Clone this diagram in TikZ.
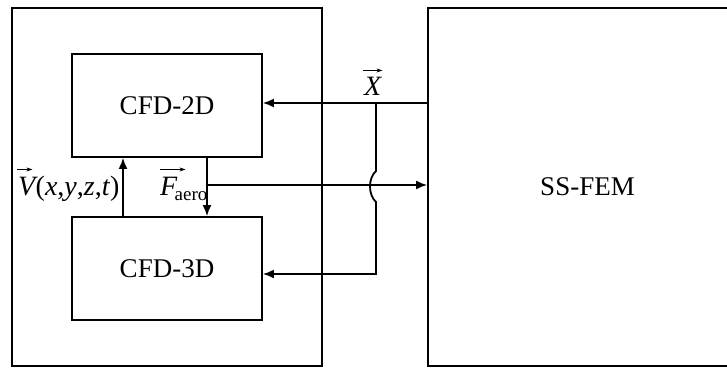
\documentclass[tikz,border=0pt]{standalone}
\usepackage{fontspec}
\setmainfont{Liberation Serif}
\usetikzlibrary{arrows.meta}
\begin{document}
\begin{tikzpicture}[x=1pt,y=-1pt,
  box/.style={draw,line width=1.8pt,rectangle,inner sep=0pt,font=\fontsize{27}{30}\selectfont},
  conn/.style={line width=1.8pt,-{Latex[length=11pt,width=9pt]}},
  lbl/.style={inner sep=0pt,font=\fontsize{28}{30}\selectfont},
  vecarrow/.style={line width=0.8pt,-{Stealth[length=6pt,width=4pt]}}]
\useasboundingbox (0,0) rectangle (727,369);
\node[box,minimum width=310pt,minimum height=358pt] (outerL) at (167,187) {};
\node[box,minimum width=319pt,minimum height=358pt] (ssfem) at (587.5,187) {SS-FEM};
\node[box,minimum width=190pt,minimum height=103pt] (cfd2) at (167,105.5) {CFD-2D};
\node[box,minimum width=190pt,minimum height=103pt] (cfd3) at (167,268.5) {CFD-3D};
% V arrow
\draw[conn] (cfd3.north -| 123,0) -- (cfd2.south -| 123,0);
% F arrow
\coordinate (fsplit) at (207,185);
\draw[conn] (cfd2.south -| fsplit) -- (cfd3.north -| fsplit);
\draw[conn] (fsplit) -- (fsplit -| ssfem.west);
% X arrows
\coordinate (xtop) at (376,103);
\coordinate (xbot) at (376,274);
\draw[conn] (xtop -| ssfem.west) -- (xtop -| cfd2.east);
\draw[conn] (xtop) -- (376,171) .. controls (368,178) and (368,195) .. (376,202) -- (xbot) -- (xbot -| cfd3.east);
% labels
\node[lbl,anchor=base west] (xl) at (364,95) {\itshape X};
\draw[vecarrow] ([xshift=-1pt,yshift=6pt]xl.north west) -- ([xshift=1pt,yshift=6pt]xl.north east);
\node[lbl,anchor=base west] (vV) at (18,195) {\itshape V};
\node[lbl,anchor=base west] (vrest) at (vV.base east) {(\textit{x},\textit{y},\textit{z},\textit{t})};
\draw[vecarrow] ([xshift=-1pt,yshift=7pt]vV.north west) -- ([xshift=-3pt,yshift=7pt]vV.north east);
\node[lbl,anchor=base west] (fF) at (160,195) {\itshape F};
\node[inner sep=0pt,anchor=base west,font=\fontsize{19}{20}\selectfont] (faero) at ([xshift=-3pt,yshift=-5pt]fF.base east) {aero};
\draw[vecarrow] ([yshift=7pt]fF.north west) -- ([xshift=8pt,yshift=7pt]fF.north east);
\end{tikzpicture}
\end{document}
